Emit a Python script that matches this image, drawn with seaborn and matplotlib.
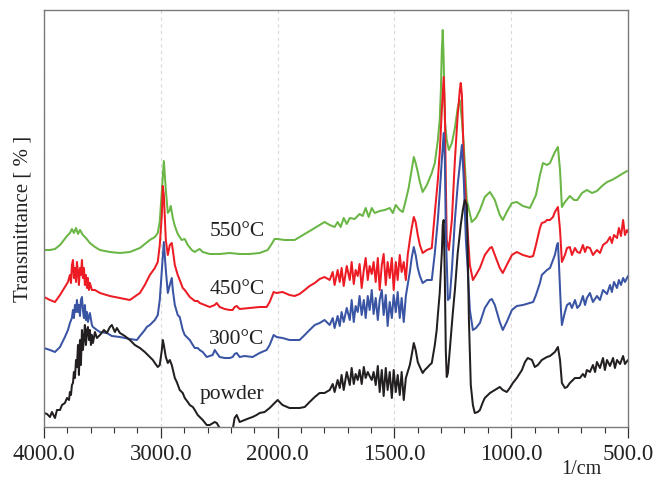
import numpy as np
import pandas as pd
import matplotlib
matplotlib.use("Agg")
import matplotlib.pyplot as plt
import seaborn as sns

# ---------------- data (wavenumber in 1/cm, transmittance in arbitrary units) ----------------
wn_550 = [4000, 3949, 3906, 3863, 3829, 3803, 3778, 3761, 3744, 3726,
          3709, 3692, 3667, 3641, 3607, 3564, 3521, 3436, 3350, 3265,
          3179, 3137, 3094, 3051, 3026, 3009, 2991, 2974, 2957, 2940,
          2923, 2915, 2897, 2880, 2855, 2821, 2795, 2769, 2735, 2709,
          2684, 2667, 2641, 2581, 2496, 2410, 2325, 2239, 2154, 2085,
          2051, 2026, 2000, 1970, 1927, 1884, 1841, 1799, 1777, 1756,
          1743, 1730, 1717, 1704, 1691, 1670, 1649, 1636, 1623, 1610,
          1597, 1584, 1563, 1541, 1520, 1507, 1494, 1477, 1464, 1451,
          1439, 1426, 1417, 1409, 1400, 1391, 1379, 1361, 1340, 1327,
          1314, 1306, 1301, 1297, 1293, 1289, 1284, 1276, 1267, 1254,
          1241, 1229, 1220, 1211, 1203, 1190, 1169, 1151, 1134, 1113,
          1091, 1070, 1049, 1036, 1019, 997, 976, 950, 920, 894,
          877, 864, 847, 834, 813, 800, 791, 783, 770, 749,
          731, 717, 697, 676, 654, 633, 611, 590, 569, 547,
          526, 504]
t_550 = [180, 180, 181, 185, 190, 194, 197, 201, 197, 202,
         196, 200, 195, 192, 187, 183, 180, 178, 177, 178,
         182, 186, 190, 193, 197, 208, 240, 269, 240, 217,
         220, 224, 212, 204, 196, 190, 191, 185, 180, 178,
         180, 181, 178, 176, 176, 177, 176, 176, 177, 180,
         186, 191, 191, 190, 190, 196, 202, 208, 205, 203,
         208, 203, 212, 206, 212, 211, 216, 214, 222, 213,
         222, 217, 219, 220, 222, 217, 225, 220, 218, 230,
         242, 260, 273, 267, 258, 248, 238, 245, 257, 267,
         290, 310, 340, 380, 400, 370, 310, 290, 280, 287,
         302, 322, 330, 310, 285, 230, 208, 212, 220, 233,
         238, 230, 215, 210, 218, 227, 228, 224, 222, 235,
         255, 267, 265, 267, 278, 283, 260, 223, 228, 234,
         230, 230, 237, 240, 237, 239, 244, 248, 250, 253,
         256, 259]

wn_450 = [4000, 3949, 3906, 3863, 3821, 3795, 3778, 3769, 3761, 3752,
          3744, 3735, 3726, 3718, 3709, 3701, 3692, 3684, 3675, 3667,
          3658, 3650, 3641, 3632, 3624, 3615, 3607, 3590, 3564, 3521,
          3436, 3350, 3265, 3179, 3137, 3094, 3051, 3026, 3009, 2991,
          2983, 2974, 2957, 2940, 2923, 2906, 2897, 2880, 2855, 2838,
          2812, 2795, 2752, 2709, 2684, 2667, 2624, 2581, 2538, 2521,
          2496, 2453, 2410, 2385, 2368, 2350, 2325, 2239, 2154, 2094,
          2068, 2034, 2009, 1979, 1949, 1927, 1906, 1884, 1863, 1841,
          1820, 1799, 1777, 1764, 1756, 1743, 1734, 1726, 1717, 1704,
          1691, 1683, 1674, 1666, 1657, 1649, 1640, 1631, 1623, 1614,
          1606, 1597, 1589, 1580, 1571, 1563, 1554, 1546, 1537, 1529,
          1520, 1511, 1503, 1494, 1486, 1477, 1469, 1460, 1451, 1443,
          1434, 1426, 1417, 1409, 1400, 1391, 1379, 1361, 1340, 1327,
          1314, 1306, 1297, 1289, 1284, 1280, 1276, 1267, 1254, 1241,
          1229, 1220, 1216, 1211, 1203, 1190, 1177, 1164, 1151, 1134,
          1113, 1091, 1083, 1070, 1049, 1036, 1019, 997, 976, 950,
          920, 906, 894, 877, 869, 856, 847, 834, 821, 813,
          800, 791, 783, 770, 761, 749, 740, 727, 717, 706,
          693, 684, 676, 663, 650, 633, 620, 607, 590, 577,
          569, 560, 547, 539, 530, 521, 513, 504, 500]
t_450 = [133, 130, 128, 135, 143, 148, 155, 147, 165, 170,
         152, 162, 148, 168, 158, 145, 162, 155, 170, 152,
         162, 145, 155, 142, 152, 140, 147, 140, 140, 137,
         134, 132, 130, 137, 145, 155, 162, 168, 185, 215,
         244, 235, 190, 175, 185, 187, 180, 165, 155, 150,
         142, 140, 133, 129, 129, 127, 125, 123, 125, 127,
         123, 121, 120, 120, 123, 124, 121, 122, 123, 123,
         128, 138, 137, 138, 135, 134, 136, 140, 144, 147,
         151, 153, 150, 158, 145, 160, 148, 162, 144, 164,
         150, 168, 146, 160, 154, 166, 142, 160, 172, 150,
         164, 156, 168, 148, 172, 140, 165, 176, 145, 168,
         152, 172, 140, 168, 150, 175, 158, 168, 150, 175,
         190, 202, 213, 208, 195, 185, 177, 180, 182, 217,
         250, 277, 320, 353, 320, 250, 190, 180, 210, 270,
         315, 340, 347, 335, 270, 210, 165, 150, 155, 162,
         175, 182, 183, 175, 162, 157, 165, 175, 178, 175,
         173, 174, 185, 202, 207, 208, 210, 210, 213, 218,
         223, 200, 168, 175, 182, 183, 175, 182, 178, 177,
         185, 178, 183, 182, 175, 180, 177, 185, 188, 193,
         187, 195, 192, 202, 194, 210, 195, 200, 198]

wn_300 = [4000, 3949, 3906, 3863, 3821, 3795, 3778, 3761, 3752, 3744,
          3735, 3726, 3718, 3709, 3701, 3692, 3684, 3675, 3667, 3658,
          3650, 3641, 3632, 3624, 3607, 3590, 3581, 3547, 3521, 3462,
          3419, 3350, 3265, 3205, 3179, 3137, 3120, 3094, 3051, 3026,
          3009, 2991, 2974, 2957, 2940, 2923, 2906, 2897, 2880, 2855,
          2838, 2812, 2795, 2769, 2752, 2726, 2709, 2684, 2667, 2641,
          2607, 2581, 2556, 2538, 2521, 2496, 2453, 2410, 2385, 2368,
          2350, 2325, 2282, 2214, 2154, 2094, 2068, 2034, 2009, 1979,
          1949, 1927, 1906, 1884, 1863, 1841, 1820, 1799, 1777, 1764,
          1756, 1743, 1734, 1726, 1717, 1704, 1691, 1683, 1674, 1666,
          1657, 1649, 1640, 1631, 1623, 1614, 1606, 1597, 1589, 1580,
          1571, 1563, 1554, 1546, 1537, 1529, 1520, 1511, 1503, 1494,
          1486, 1477, 1469, 1460, 1451, 1443, 1434, 1426, 1417, 1409,
          1400, 1391, 1379, 1361, 1340, 1327, 1314, 1306, 1297, 1289,
          1284, 1280, 1271, 1263, 1254, 1241, 1229, 1220, 1211, 1203,
          1194, 1186, 1177, 1164, 1151, 1134, 1113, 1091, 1083, 1070,
          1049, 1036, 1019, 997, 976, 950, 920, 906, 894, 877,
          869, 856, 847, 834, 821, 813, 804, 800, 796, 787,
          783, 770, 761, 749, 740, 727, 717, 706, 693, 684,
          676, 663, 650, 633, 620, 607, 590, 577, 569, 560,
          547, 539, 530, 521, 513, 500]
t_300 = [82, 80, 78, 83, 93, 100, 107, 112, 120, 112,
         125, 118, 130, 118, 125, 114, 130, 133, 120, 112,
         125, 110, 118, 108, 117, 105, 103, 100, 98, 97,
         94, 93, 91, 90, 94, 100, 103, 105, 110, 115,
         130, 160, 188, 160, 137, 145, 152, 140, 125, 115,
         113, 100, 95, 92, 90, 85, 82, 82, 80, 78,
         73, 74, 75, 80, 77, 73, 72, 72, 73, 76,
         77, 73, 74, 73, 77, 80, 85, 95, 93, 92,
         90, 90, 90, 95, 100, 105, 107, 110, 105, 112,
         102, 114, 104, 118, 108, 122, 110, 130, 108, 124,
         118, 134, 115, 130, 112, 134, 120, 140, 116, 132,
         110, 130, 140, 115, 135, 104, 128, 112, 135, 118,
         138, 112, 132, 108, 134, 145, 158, 172, 183, 175,
         162, 154, 147, 150, 150, 177, 210, 237, 270, 297,
         270, 200, 130, 132, 160, 210, 245, 265, 285, 250,
         190, 160, 120, 100, 102, 107, 122, 130, 131, 125,
         108, 100, 108, 120, 124, 125, 127, 128, 135, 147,
         155, 158, 160, 162, 170, 175, 185, 187, 168, 120,
         105, 118, 125, 127, 122, 130, 122, 125, 134, 125,
         132, 137, 128, 134, 130, 140, 136, 145, 138, 148,
         142, 150, 145, 152, 148, 154]

wn_powder = [4000, 3974, 3949, 3932, 3906, 3889, 3863, 3846, 3821, 3803,
             3786, 3778, 3769, 3761, 3752, 3744, 3735, 3726, 3718, 3709,
             3701, 3692, 3684, 3675, 3667, 3658, 3650, 3641, 3632, 3624,
             3615, 3607, 3598, 3590, 3581, 3564, 3547, 3521, 3487, 3462,
             3436, 3419, 3393, 3376, 3350, 3308, 3265, 3222, 3179, 3137,
             3094, 3068, 3051, 3026, 3009, 2991, 2983, 2974, 2957, 2940,
             2923, 2906, 2880, 2863, 2838, 2812, 2795, 2769, 2752, 2726,
             2709, 2684, 2667, 2641, 2607, 2581, 2538, 2521, 2496, 2470,
             2410, 2385, 2368, 2350, 2325, 2282, 2239, 2214, 2180, 2154,
             2111, 2068, 2026, 2000, 1979, 1949, 1927, 1906, 1884, 1863,
             1841, 1820, 1799, 1777, 1764, 1756, 1743, 1734, 1726, 1717,
             1704, 1691, 1683, 1674, 1666, 1657, 1649, 1640, 1631, 1623,
             1614, 1606, 1597, 1589, 1580, 1571, 1563, 1554, 1546, 1537,
             1529, 1520, 1511, 1503, 1494, 1486, 1477, 1469, 1460, 1451,
             1443, 1434, 1426, 1417, 1409, 1400, 1391, 1379, 1370, 1361,
             1349, 1340, 1327, 1319, 1314, 1306, 1301, 1297, 1293, 1289,
             1284, 1280, 1276, 1271, 1263, 1250, 1241, 1229, 1216, 1207,
             1199, 1190, 1186, 1181, 1173, 1164, 1156, 1143, 1134, 1121,
             1113, 1091, 1070, 1049, 1036, 1019, 1006, 993, 976, 954,
             941, 929, 911, 899, 886, 869, 847, 834, 813, 800,
             791, 783, 770, 761, 749, 727, 706, 693, 684, 676,
             663, 650, 641, 633, 620, 607, 599, 590, 577, 564,
             556, 547, 534, 521, 513, 500]
t_powder = [17, 16, 13, 18, 12, 20, 20, 25, 27, 32,
            30, 38, 35, 45, 47, 58, 52, 70, 63, 85,
            55, 90, 65, 100, 80, 92, 105, 85, 100, 103,
            90, 100, 85, 95, 87, 98, 92, 95, 100, 97,
            103, 105, 98, 102, 97, 94, 90, 85, 82, 78,
            73, 70, 67, 63, 65, 80, 90, 85, 73, 67,
            70, 65, 52, 48, 40, 37, 32, 28, 25, 23,
            20, 15, 13, 10, 5, 5, 8, 7, 2, -2,
            -5, 0, 12, 15, 8, 10, 12, 13, 15, 17,
            18, 22, 27, 30, 25, 22, 22, 22, 23, 28,
            33, 37, 37, 40, 46, 38, 50, 42, 55, 40,
            58, 45, 62, 46, 56, 50, 60, 46, 63, 52,
            58, 54, 50, 58, 45, 64, 38, 60, 34, 62,
            40, 58, 32, 60, 38, 55, 35, 58, 30, 52,
            58, 65, 75, 87, 80, 68, 63, 57, 60, 62,
            65, 67, 85, 100, 115, 137, 160, 177, 205, 210,
            150, 80, 53, 57, 80, 117, 140, 177, 205, 220,
            230, 225, 177, 110, 45, 25, 17, 18, 20, 28,
            32, 37, 40, 43, 40, 38, 42, 47, 52, 60,
            68, 72, 70, 63, 65, 70, 73, 74, 78, 83,
            70, 47, 42, 43, 47, 52, 52, 56, 53, 60,
            58, 65, 58, 68, 62, 72, 60, 70, 64, 72,
            62, 70, 66, 74, 66, 70]

samples = ["550°C", "450°C", "300°C", "powder"]
colors = ["#6ab645", "#ed1c24", "#3a54a4", "#231f20"]
label_y = [199, 140, 90, 35]
major_ticks = [4000, 3000, 2000, 1500, 1000, 500]

# ---------------- build long table ----------------
series = [(wn_550, t_550), (wn_450, t_450), (wn_300, t_300), (wn_powder, t_powder)]
frames = []
for name, (w, t) in zip(samples, series):
    frames.append(pd.DataFrame({"wn": w, "T": t, "sample": name}))
df = pd.concat(frames, ignore_index=True)

# ---------------- style ----------------
sns.set_theme(style="white")
plt.rcParams["font.family"] = ["Liberation Serif", "DejaVu Serif"]

fig = plt.figure(figsize=(6.59, 4.80), dpi=100)
ax = fig.add_axes([44 / 659, 1 - 427 / 480, (628 - 44) / 659, (427 - 10) / 480])

sns.lineplot(data=df, x="wn", y="T", hue="sample", hue_order=samples,
             palette=dict(zip(samples, colors)), estimator=None, sort=False,
             legend=False, linewidth=1.45, ax=ax)


# piecewise-linear wavenumber axis (4000-2000 compressed, 2000-500 expanded)
def fwd(w):
    w = np.asarray(w, dtype=float)
    return np.where(w >= 2000, 3 + (w - 2000) / 1000.0, (w - 500) / 500.0)


def inv(u):
    u = np.asarray(u, dtype=float)
    return np.where(u >= 3, 2000 + (u - 3) * 1000.0, 500 + u * 500.0)


ax.set_xscale("function", functions=(fwd, inv))
ax.set_xlim(4000, 500)
ax.set_ylim(3, 420)

ax.set_xticks(major_ticks)
ax.set_xticklabels([f"{v:.1f}" for v in major_ticks])
minor = [v for v in range(3800, 2000, -200) if v != 3000] + \
        [v for v in range(1900, 500, -100) if v not in (1500, 1000)]
ax.set_xticks(minor, minor=True)
ax.set_yticks([])

ax.tick_params(axis="x", which="major", direction="out", length=8, width=0.9,
               color="#333333", pad=4, labelsize=16.5, labelcolor="#222222",
               bottom=True)
ax.tick_params(axis="x", which="minor", direction="out", length=4, width=0.8,
               color="#333333", bottom=True)

ax.grid(axis="x", which="major", linestyle=(0, (3, 3)), color="#d9d9d9", linewidth=0.8)
ax.grid(axis="y", visible=False)

for sp in ax.spines.values():
    sp.set_visible(True)
    sp.set_color("#7a7a7a")
    sp.set_linewidth(1.0)

ax.set_xlabel("")
ax.set_ylabel("Transmittance [ % ]", fontsize=15, color="#222222", labelpad=8)

for name, yv in zip(samples, label_y):
    ax.text(2111, yv, name, ha="right", va="center", fontsize=15.5, color="#222222")

fig.text(581 / 659, 1 / 480, "1/cm", ha="center", va="bottom",
         fontsize=14.5, color="#222222")

fig.savefig("out.png", dpi=100)
